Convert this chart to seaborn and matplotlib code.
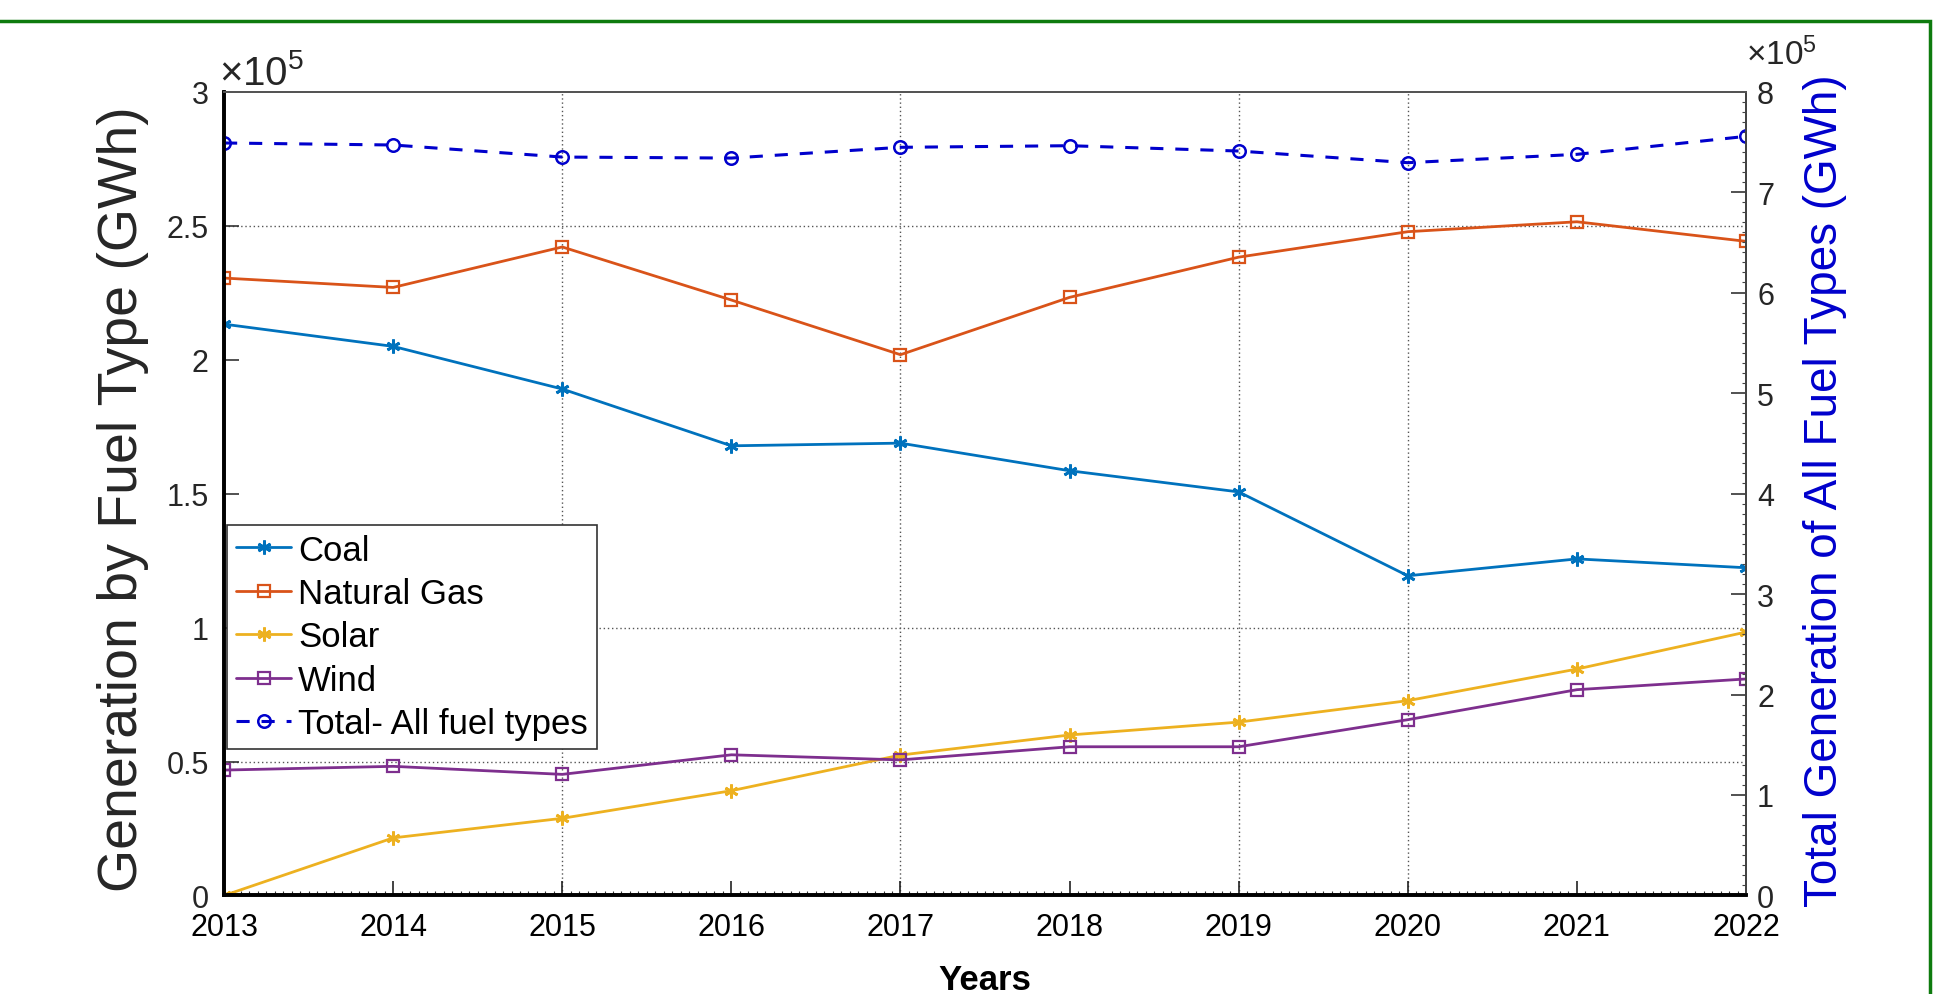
import matplotlib
matplotlib.use("Agg")
import matplotlib.pyplot as plt
import seaborn as sns
from matplotlib.ticker import FuncFormatter, FixedLocator, MultipleLocator
from matplotlib.patches import Rectangle

# Annual electricity generation (GWh)
years = [2013, 2014, 2015, 2016, 2017, 2018, 2019, 2020, 2021, 2022]
coal = [213200, 204900, 189000, 167800, 168800, 158500, 150600, 119300, 125600, 122300]
natural_gas = [230400, 226900, 242000, 222200, 201800, 223200, 238200, 247700, 251400, 244100]
solar = [0, 21500, 28800, 39100, 52400, 59900, 64700, 72700, 84500, 98300]
wind = [46800, 48200, 45200, 52500, 50600, 55500, 55500, 65600, 76800, 80800]
total = [748800, 746800, 734800, 733800, 744500, 746100, 740800, 729200, 737500, 755400]

left_ticks = [0, 50000, 100000, 150000, 200000, 250000, 300000]
right_ticks = [0, 100000, 200000, 300000, 400000, 500000, 600000, 700000, 800000]
grid_years = [2015, 2017, 2019, 2020]
grid_levels = [50000, 100000, 250000]

sns.set_theme(style="white")
plt.rcParams["font.family"] = ["Liberation Sans", "DejaVu Sans"]
plt.rcParams["mathtext.fontset"] = "custom"
plt.rcParams["mathtext.rm"] = "Liberation Sans"

C_COAL = "#0072BD"
C_GAS = "#D95319"
C_SOLAR = "#EDB120"
C_WIND = "#7E2F8E"
C_TOTAL = "#0000CC"
TXT = "#262626"
ASTERISK = (6, 2, 0)

fig = plt.figure(figsize=(19.55, 9.95), dpi=100)
fig.patch.set_facecolor("white")
ax = fig.add_axes([0.1146, 0.099, 0.7785, 0.808])
ax2 = ax.twinx()

lw = 2.0
sns.lineplot(x=years, y=coal, ax=ax, color=C_COAL, lw=lw, marker=ASTERISK, ms=10,
             mfc=C_COAL, mec=C_COAL, mew=2.0, label="Coal")
sns.lineplot(x=years, y=natural_gas, ax=ax, color=C_GAS, lw=lw, marker="s", ms=8,
             mfc="none", mec=C_GAS, mew=1.6, label="Natural Gas")
sns.lineplot(x=years, y=solar, ax=ax, color=C_SOLAR, lw=lw, marker=ASTERISK, ms=10,
             mfc=C_SOLAR, mec=C_SOLAR, mew=2.0, label="Solar")
sns.lineplot(x=years, y=wind, ax=ax, color=C_WIND, lw=lw, marker="s", ms=8,
             mfc="none", mec=C_WIND, mew=1.6, label="Wind")
sns.lineplot(x=years, y=total, ax=ax2, color=C_TOTAL, lw=2.2, marker="o", ms=9,
             mfc="none", mec=C_TOTAL, mew=1.8, linestyle=(0, (4.3, 3.9)),
             label="Total- All fuel types")

# Axis ranges and ticks
ax.set_xlim(2013, 2022)
ax.set_ylim(0, 300000)
ax2.set_ylim(0, 800000)
ax.xaxis.set_major_locator(FixedLocator(years))
ax.xaxis.set_minor_locator(MultipleLocator(0.05))
ax.yaxis.set_major_locator(FixedLocator(left_ticks))
ax2.yaxis.set_major_locator(FixedLocator(right_ticks))
ax2.yaxis.set_minor_locator(MultipleLocator(10000))
ax.xaxis.set_major_formatter(FuncFormatter(lambda v, p: f"{int(round(v))}"))
sci = FuncFormatter(lambda v, p: f"{v / 1e5:g}")
ax.yaxis.set_major_formatter(sci)
ax2.yaxis.set_major_formatter(sci)

ax.tick_params(axis="x", which="major", direction="in", length=10, width=1.2,
               labelsize=22, pad=12, colors="#222222", labelcolor="black",
               bottom=True, top=False)
ax.tick_params(axis="x", which="minor", direction="in", length=3, width=0.8,
               bottom=True, top=False, colors="#333333")
ax.tick_params(axis="y", which="major", direction="in", length=11, width=1.2,
               labelsize=22, pad=11, colors="#333333", labelcolor=TXT,
               left=True, right=False)
ax2.tick_params(axis="y", which="major", direction="in", length=11, width=1.2,
                labelsize=22, pad=8, colors="#333333", labelcolor=TXT,
                right=True, left=False)
ax2.tick_params(axis="y", which="minor", direction="in", length=3, width=0.8,
                right=True, left=False, colors="#444444")

# Spines
for a in (ax, ax2):
    a.spines["left"].set_color("black")
    a.spines["left"].set_linewidth(2.6)
    a.spines["bottom"].set_color("black")
    a.spines["bottom"].set_linewidth(2.6)
    a.spines["top"].set_color("#555555")
    a.spines["top"].set_linewidth(1.4)
    a.spines["right"].set_color("#444444")
    a.spines["right"].set_linewidth(1.4)

# Dotted grid at selected tick positions
ax.grid(True, which="major", linestyle=(0, (1, 2)), color="#555555", lw=1.0)
ax2.grid(False)
for tick, val in zip(ax.xaxis.get_major_ticks(), years):
    tick.gridline.set_visible(val in grid_years)
for tick, val in zip(ax.yaxis.get_major_ticks(), left_ticks):
    tick.gridline.set_visible(val in grid_levels)
ax.set_axisbelow(True)

# Labels
ax.set_xlabel("Years", fontsize=25, fontweight="bold", color="black")
ax.xaxis.set_label_coords(0.5, -0.084)
ax.set_ylabel("Generation by Fuel Type (GWh)", fontsize=40, color=TXT)
ax.yaxis.set_label_coords(-0.049, 0.494)
ax2.set_ylabel("Total Generation of All Fuel Types (GWh)", fontsize=33,
               color=C_TOTAL, rotation=90)
ax2.yaxis.set_label_coords(1.052, 0.505)
ax2.yaxis.label.set_va("center")

ax.text(-0.003, 0.999, r"$\mathregular{\times10^{5}}$", transform=ax.transAxes,
        fontsize=29, color=TXT, ha="left", va="bottom")
ax2.text(1.000, 1.026, r"$\mathregular{\times10^{5}}$", transform=ax2.transAxes,
         fontsize=24, color=TXT, ha="left", va="bottom")

# Combined legend
h1, l1 = ax.get_legend_handles_labels()
h2, l2 = ax2.get_legend_handles_labels()
if ax.get_legend() is not None:
    ax.get_legend().remove()
leg = ax2.legend(h1 + h2, l1 + l2, loc="upper left", bbox_to_anchor=(0.002, 0.461),
                 bbox_transform=ax.transAxes, borderaxespad=0, fontsize=25,
                 frameon=True, fancybox=False, framealpha=1, edgecolor="#333333",
                 handlelength=1.6, handletextpad=0.2, labelspacing=0.30,
                 borderpad=0.25)
leg.get_frame().set_linewidth(1.2)
for t in leg.get_texts():
    t.set_color("black")

# Green outer frame
fig.patches.append(Rectangle((-0.01, -0.05), 0.9972, 1.028, transform=fig.transFigure,
                             fill=False, edgecolor="#0E7B0E", linewidth=2.5))

fig.savefig("out.png", dpi=100, facecolor="white")
